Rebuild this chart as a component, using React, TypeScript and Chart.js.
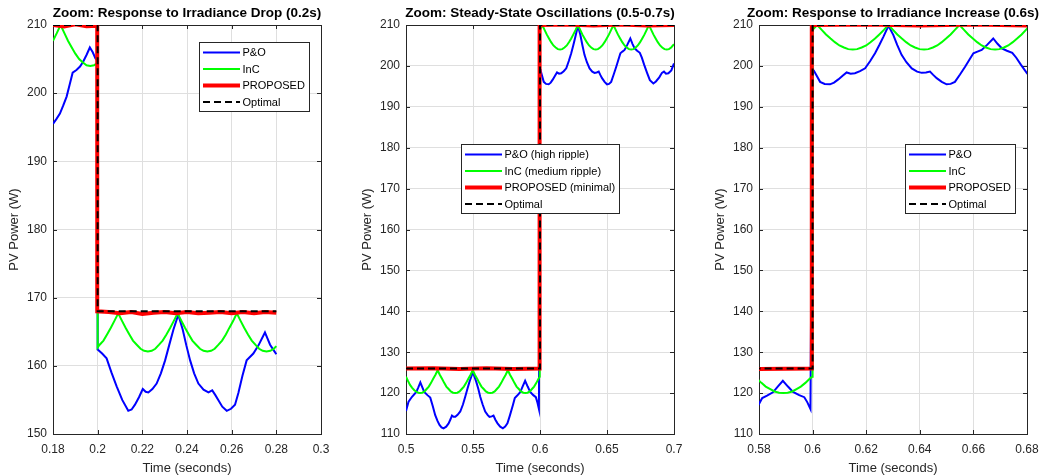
import React, { useEffect, useRef } from 'react';
import { Chart, registerables } from 'chart.js';

Chart.register(...registerables);
Chart.defaults.font.family = '"Liberation Sans", Arial, Helvetica, sans-serif';

// ---------- Panel 1: response to irradiance drop (0.18 - 0.28 s) ----------
const t1PO = [
  0.18, 0.1815, 0.1831, 0.1846, 0.1861, 0.1875, 0.1888, 0.1905, 0.1921, 0.1935,
  0.195, 0.1965, 0.1978, 0.199, 0.1999, 0.2, 0.202, 0.204, 0.2062, 0.2085,
  0.211, 0.2137, 0.2152, 0.2167, 0.2185, 0.2202, 0.2215, 0.2227, 0.2245, 0.2264,
  0.2283, 0.2302, 0.232, 0.2339, 0.2361, 0.2381, 0.2397, 0.2414, 0.2432, 0.2451,
  0.2474, 0.2496, 0.2513, 0.2527, 0.254, 0.2558, 0.2578, 0.2597, 0.2615, 0.263,
  0.2648, 0.2667, 0.2697, 0.272, 0.2749, 0.2772, 0.279, 0.28,
];
const v1PO = [
  195.5, 196.2, 197.0, 198.2, 199.5, 201.3, 203.0, 203.4, 203.9, 204.6,
  205.6, 206.7, 206.0, 205.1, 204.8, 162.4, 161.8, 161.1, 159.0, 157.0,
  155.0, 153.4, 153.6, 154.3, 155.4, 156.6, 156.2, 156.1, 156.6, 157.4,
  158.9, 160.8, 163.0, 165.3, 167.5, 165.3, 163.0, 160.8, 158.9, 157.4,
  156.5, 156.1, 156.4, 155.7, 155.0, 154.0, 153.4, 153.7, 154.3, 156.0,
  158.5, 160.8, 161.8, 163.0, 164.9, 163.1, 162.2, 161.7,
];
const t1InC = [
  0.18, 0.1817, 0.1834, 0.1851, 0.1867, 0.1884, 0.19, 0.1917, 0.1934, 0.195,
  0.1967, 0.1984, 0.1999, 0.2, 0.2009, 0.2026, 0.2042, 0.2059, 0.2075, 0.2092,
  0.2109, 0.2125, 0.2142, 0.2158, 0.2175, 0.2192, 0.2208, 0.2225, 0.2242, 0.2258,
  0.2275, 0.2291, 0.2308, 0.2325, 0.2341, 0.2358, 0.2375, 0.2391, 0.2408, 0.2424,
  0.2441, 0.2458, 0.2474, 0.2491, 0.2508, 0.2524, 0.2541, 0.2557, 0.2574, 0.259,
  0.2607, 0.2623, 0.264, 0.2656, 0.2673, 0.269, 0.2706, 0.2723, 0.2739, 0.2756,
  0.2773, 0.2789, 0.28,
];
const v1InC = [
  207.7, 208.8, 210.0, 208.8, 207.7, 206.7, 205.8, 205.0, 204.5, 204.1,
  204.0, 204.1, 204.4, 162.7, 163.1, 163.7, 164.6, 165.6, 166.6, 167.7,
  166.6, 165.6, 164.6, 163.7, 163.1, 162.5, 162.2, 162.1, 162.2, 162.5,
  163.1, 163.7, 164.6, 165.6, 166.6, 167.7, 166.6, 165.6, 164.6, 163.7,
  163.1, 162.5, 162.2, 162.1, 162.2, 162.5, 163.1, 163.7, 164.6, 165.6,
  166.6, 167.7, 166.6, 165.6, 164.6, 163.7, 163.1, 162.5, 162.2, 162.1,
  162.2, 162.5, 162.9,
];
const t1Prop = [
  0.18, 0.185, 0.19, 0.195, 0.1998, 0.1998, 0.205, 0.21, 0.215, 0.22, 0.225,
  0.23, 0.235, 0.24, 0.245, 0.25, 0.255, 0.26, 0.265, 0.27, 0.275, 0.28,
];
const v1Prop = [
  210.0, 209.8, 210.1, 209.8, 209.9, 168.0, 167.9, 167.7, 167.9, 167.6, 167.8,
  167.9, 167.7, 167.9, 167.7, 167.8, 167.9, 167.7, 167.9, 167.7, 167.9, 167.8,
];
const t1Opt = [0.18, 0.2, 0.2, 0.28];
const v1Opt = [210, 210, 168, 168];

// ---------- Panels 2 and 3: 0.5 - 0.7 s ----------
const t2PO = [
  0.5, 0.5019, 0.5045, 0.5077, 0.5092, 0.5107, 0.5122, 0.5136, 0.516, 0.5181,
  0.52, 0.5218, 0.5235, 0.525, 0.5265, 0.528, 0.53, 0.5318, 0.5332, 0.5343,
  0.5355, 0.5368, 0.5385, 0.5405, 0.5425, 0.5442, 0.5458, 0.5474, 0.5487, 0.5499,
  0.5511, 0.5524, 0.554, 0.5554, 0.5572, 0.5591, 0.561, 0.5623, 0.564, 0.5653,
  0.5667, 0.5683, 0.5703, 0.5723, 0.574, 0.5757, 0.5775, 0.5798, 0.5812, 0.583,
  0.5852, 0.587, 0.5889, 0.5908, 0.5927, 0.595, 0.5969, 0.598, 0.5992,
  0.6, 0.6005, 0.6028, 0.6045, 0.6065, 0.608, 0.6096, 0.6112, 0.6127, 0.6142,
  0.6158, 0.6177, 0.6196, 0.6215, 0.6233, 0.6249, 0.6264, 0.6283, 0.6301, 0.6316,
  0.6332, 0.635, 0.637, 0.639, 0.6407, 0.6423, 0.6438, 0.645, 0.6463, 0.6482,
  0.65, 0.6515, 0.6531, 0.655, 0.6569, 0.6585, 0.66, 0.6615, 0.6631, 0.6652,
  0.6674, 0.669, 0.6706, 0.6725, 0.6745, 0.676, 0.6777, 0.6799, 0.682, 0.6846,
  0.6865, 0.689, 0.691, 0.6925, 0.694, 0.6958, 0.698, 0.7,
];
const v2PO = [
  115.6, 117.9, 119.1, 120.3, 121.4, 122.6, 121.4, 120.3, 119.5, 118.9,
  116.8, 114.6, 113.2, 112.2, 111.6, 111.4, 111.8, 112.6, 113.6, 114.5,
  114.2, 114.2, 114.7, 115.5, 117.2, 119.1, 121.0, 122.8, 124.0, 125.2,
  124.0, 122.8, 121.0, 119.1, 117.2, 115.5, 114.6, 114.2, 114.3, 114.5,
  113.5, 112.6, 111.8, 111.4, 111.8, 112.6, 114.5, 117.1, 118.8, 119.4,
  120.2, 121.6, 123.0, 121.6, 120.3, 119.5, 119.0, 117.8, 116.1,
  199.2, 198.8, 196.1, 195.6, 195.5, 195.9, 196.7, 197.6, 198.4, 198.1,
  198.2, 198.7, 199.4, 201.2, 203.1, 205.1, 207.1, 209.8, 207.6, 205.1,
  202.7, 200.9, 199.4, 198.6, 198.3, 198.4, 198.6, 197.8, 197.0, 196.1,
  195.5, 195.6, 196.1, 197.9, 199.8, 201.5, 203.1, 203.5, 203.9, 205.2,
  206.7, 205.4, 204.3, 203.7, 203.2, 202.0, 200.3, 198.3, 196.5, 195.7,
  196.2, 197.2, 198.3, 198.6, 198.1, 198.2, 198.9, 200.6,
];
const t2InC = [
  0.5, 0.5013, 0.503, 0.5046, 0.5062, 0.5079, 0.5092, 0.5105,
  0.5121, 0.5138, 0.5154, 0.517, 0.5187, 0.5203, 0.522, 0.5236,
  0.5252, 0.5269, 0.5285, 0.5301, 0.5318, 0.5334, 0.5351, 0.5367,
  0.5383, 0.54, 0.5416, 0.5432, 0.5449, 0.5465, 0.5482, 0.5498,
  0.5514, 0.5531, 0.5547, 0.5563, 0.558, 0.5596, 0.5613, 0.5629,
  0.5645, 0.5662, 0.5678, 0.5694, 0.5711, 0.5727, 0.5744, 0.576,
  0.5776, 0.5793, 0.5809, 0.5825, 0.5842, 0.5858, 0.5875, 0.5891,
  0.5907, 0.5924, 0.594, 0.5956, 0.5973, 0.5989, 0.5998,
  0.6, 0.6017,
  0.6034, 0.605, 0.6067, 0.6083, 0.61, 0.6117, 0.6133, 0.615,
  0.6166, 0.6183, 0.62, 0.6216, 0.6233, 0.6249, 0.6266, 0.6283,
  0.63, 0.6316, 0.6333, 0.6349, 0.6366, 0.6382, 0.6399, 0.6416,
  0.6432, 0.6449, 0.6465, 0.6482, 0.6498, 0.6515, 0.6531, 0.6548,
  0.6565, 0.6581, 0.6598, 0.6614, 0.6631, 0.6647, 0.6664, 0.6681,
  0.6697, 0.6714, 0.673, 0.6747, 0.6763, 0.678, 0.6796, 0.6813,
  0.683, 0.6846, 0.6863, 0.6879, 0.6896, 0.6912, 0.6929, 0.6946,
  0.6962, 0.6979, 0.7,
];
const v2InC = [
  124.0, 123.1, 122.0, 121.3, 120.7, 120.3, 120.1, 120.0,
  120.1, 120.4, 121.0, 121.6, 122.5, 123.5, 124.5, 125.6,
  124.5, 123.5, 122.5, 121.6, 121.0, 120.4, 120.1, 120.0,
  120.1, 120.4, 121.0, 121.6, 122.5, 123.5, 124.5, 125.6,
  124.5, 123.5, 122.5, 121.6, 121.0, 120.4, 120.1, 120.0,
  120.1, 120.4, 121.0, 121.6, 122.5, 123.5, 124.5, 125.6,
  124.5, 123.5, 122.5, 121.6, 121.0, 120.4, 120.1, 120.0,
  120.1, 120.4, 121.0, 121.6, 122.5, 123.5, 124.0,
  208.8, 210.0,
  208.8, 207.7, 206.7, 205.8, 205.0, 204.5, 204.1, 204.0,
  204.1, 204.5, 205.0, 205.8, 206.7, 207.7, 208.8, 210.0,
  208.8, 207.7, 206.7, 205.8, 205.0, 204.5, 204.1, 204.0,
  204.1, 204.5, 205.0, 205.8, 206.7, 207.7, 208.8, 210.0,
  208.8, 207.7, 206.7, 205.8, 205.0, 204.5, 204.1, 204.0,
  204.1, 204.5, 205.0, 205.8, 206.7, 207.7, 208.8, 210.0,
  208.8, 207.7, 206.7, 205.8, 205.0, 204.5, 204.1, 204.0,
  204.1, 204.5, 205.3,
];
const t2Prop = [0.5, 0.52, 0.54, 0.56, 0.58, 0.5997, 0.5997, 0.62, 0.64, 0.66, 0.68, 0.7];
const v2Prop = [126.0, 126.1, 125.9, 126.1, 125.9, 126.0, 210.0, 210.1, 209.9, 210.1, 209.9, 210.0];
const t2Opt = [0.5, 0.6, 0.6, 0.7];
const v2Opt = [126, 126, 210, 210];

// ---------- Tick labels ----------
const xTicks1 = [0.18, 0.2, 0.22, 0.24, 0.26, 0.28, 0.3];
const xTicks2 = [0.5, 0.55, 0.6, 0.65, 0.7];
const xTicks3 = [0.58, 0.6, 0.62, 0.64, 0.66, 0.68];
const yTicks1 = [150, 160, 170, 180, 190, 200, 210];
const yTicks2 = [110, 120, 130, 140, 150, 160, 170, 180, 190, 200, 210];

const labelsShort = ['P&O', 'InC', 'PROPOSED', 'Optimal'];
const labelsLong = ['P&O (high ripple)', 'InC (medium ripple)', 'PROPOSED (minimal)', 'Optimal'];

const AXIS = '#262626';
const GRID = '#dfdfdf';
const FONT = '"Liberation Sans", Arial, Helvetica, sans-serif';
const CANVAS_W = 341;
const PAD_RIGHT = 20;

const zip = (t: number[], v: number[]) => t.map((x, i) => ({ x, y: v[i] }));

const framePlugin = {
  id: 'frameBox',
  beforeDatasetsDraw(chart: any) {
    const { ctx, chartArea } = chart;
    const { left, right, top, bottom } = chartArea;
    const xs = chart.scales.x;
    const ys = chart.scales.y;
    ctx.save();
    ctx.strokeStyle = AXIS;
    ctx.lineWidth = 1;
    ctx.setLineDash([]);
    ctx.strokeRect(Math.round(left) + 0.5, Math.round(top) + 0.5, Math.round(right - left), Math.round(bottom - top));
    ctx.beginPath();
    xs.ticks.forEach((tk: any) => {
      const px = Math.round(xs.getPixelForValue(tk.value)) + 0.5;
      ctx.moveTo(px, bottom);
      ctx.lineTo(px, bottom - 4);
      ctx.moveTo(px, top);
      ctx.lineTo(px, top + 4);
    });
    ys.ticks.forEach((tk: any) => {
      const py = Math.round(ys.getPixelForValue(tk.value)) + 0.5;
      ctx.moveTo(left, py);
      ctx.lineTo(left + 4, py);
      ctx.moveTo(right, py);
      ctx.lineTo(right - 4, py);
    });
    ctx.stroke();
    ctx.restore();
  },
};

const titlePlugin = {
  id: 'panelTitle',
  afterDraw(chart: any, _args: any, opts: any) {
    const { ctx, chartArea } = chart;
    ctx.save();
    ctx.fillStyle = '#000';
    ctx.font = `bold 13.5px ${FONT}`;
    ctx.textAlign = 'center';
    ctx.textBaseline = 'middle';
    ctx.fillText(opts.text, (chartArea.left + chartArea.right) / 2, 13);
    ctx.restore();
  },
};

const legendPlugin = {
  id: 'boxLegend',
  afterDatasetsDraw(chart: any, _args: any, opts: any) {
    const { ctx } = chart;
    const { x, y, w, h } = opts;
    ctx.save();
    ctx.fillStyle = '#ffffff';
    ctx.fillRect(x, y, w, h);
    ctx.strokeStyle = AXIS;
    ctx.lineWidth = 1;
    ctx.setLineDash([]);
    ctx.strokeRect(x + 0.5, y + 0.5, w, h);
    chart.data.datasets.forEach((ds: any, i: number) => {
      const cy = y + 10.5 + i * 16.5;
      ctx.beginPath();
      ctx.setLineDash(ds.borderDash || []);
      ctx.strokeStyle = ds.borderColor;
      ctx.lineWidth = ds.borderWidth;
      ctx.moveTo(x + 4, cy);
      ctx.lineTo(x + 41, cy);
      ctx.stroke();
      ctx.setLineDash([]);
      ctx.fillStyle = '#000';
      ctx.font = `11px ${FONT}`;
      ctx.textAlign = 'left';
      ctx.textBaseline = 'middle';
      ctx.fillText(ds.label, x + 43.5, cy + 0.5);
    });
    ctx.restore();
  },
};

type PanelDef = {
  title: string;
  labels: string[];
  po: [number[], number[]];
  inc: [number[], number[]];
  prop: [number[], number[]];
  opt: [number[], number[]];
  xMin: number;
  xMax: number;
  yMin: number;
  yMax: number;
  xTicks: number[];
  yTicks: number[];
  legend: { x: number; y: number; w: number; h: number };
  left: number;
};

const panels: PanelDef[] = [
  {
    title: 'Zoom: Response to Irradiance Drop (0.2s)',
    labels: labelsShort,
    po: [t1PO, v1PO], inc: [t1InC, v1InC], prop: [t1Prop, v1Prop], opt: [t1Opt, v1Opt],
    xMin: 0.18, xMax: 0.3, yMin: 150, yMax: 210, xTicks: xTicks1, yTicks: yTicks1,
    legend: { x: 199, y: 42, w: 110, h: 69 },
    left: 0,
  },
  {
    title: 'Zoom: Steady-State Oscillations (0.5-0.7s)',
    labels: labelsLong,
    po: [t2PO, v2PO], inc: [t2InC, v2InC], prop: [t2Prop, v2Prop], opt: [t2Opt, v2Opt],
    xMin: 0.5, xMax: 0.7, yMin: 110, yMax: 210, xTicks: xTicks2, yTicks: yTicks2,
    legend: { x: 108, y: 144, w: 158, h: 69 },
    left: 353,
  },
  {
    title: 'Zoom: Response to Irradiance Increase (0.6s)',
    labels: labelsShort,
    po: [t2PO, v2PO], inc: [t2InC, v2InC], prop: [t2Prop, v2Prop], opt: [t2Opt, v2Opt],
    xMin: 0.58, xMax: 0.68, yMin: 110, yMax: 210, xTicks: xTicks3, yTicks: yTicks2,
    legend: { x: 199, y: 144, w: 110, h: 69 },
    left: 706,
  },
];

function makeConfig(p: PanelDef): any {
  return {
    type: 'line',
    data: {
      datasets: [
        { label: p.labels[0], data: zip(p.po[0], p.po[1]), borderColor: '#0000ff', borderWidth: 2, order: 4 },
        { label: p.labels[1], data: zip(p.inc[0], p.inc[1]), borderColor: '#00ff00', borderWidth: 2, order: 3 },
        { label: p.labels[2], data: zip(p.prop[0], p.prop[1]), borderColor: '#ff0000', borderWidth: 4, order: 2 },
        { label: p.labels[3], data: zip(p.opt[0], p.opt[1]), borderColor: '#000000', borderWidth: 2, borderDash: [7, 4], order: 1 },
      ],
    },
    options: {
      responsive: false,
      maintainAspectRatio: false,
      animation: false,
      devicePixelRatio: 1,
      layout: { padding: { top: 25, right: PAD_RIGHT, left: 0, bottom: 0 } },
      elements: {
        point: { radius: 0, hoverRadius: 0 },
        line: { tension: 0, fill: false, borderCapStyle: 'butt', borderJoinStyle: 'miter' },
      },
      events: [],
      plugins: {
        legend: { display: false },
        tooltip: { enabled: false },
        title: { display: false },
        panelTitle: { text: p.title },
        boxLegend: p.legend,
      },
      scales: {
        x: {
          type: 'linear',
          min: p.xMin,
          max: p.xMax,
          afterBuildTicks: (s: any) => {
            s.ticks = p.xTicks.map((v) => ({ value: v }));
          },
          afterFit: (s: any) => {
            s.height = 42;
          },
          grid: { color: GRID, drawTicks: false, lineWidth: 1 },
          border: { display: false },
          ticks: {
            padding: 8,
            color: AXIS,
            font: { size: 12 },
            maxRotation: 0,
            autoSkip: false,
            callback: (v: any) => String(v),
          },
          title: {
            display: true,
            text: 'Time (seconds)',
            color: AXIS,
            font: { size: 13 },
            padding: { top: 0, bottom: 0 },
          },
        },
        y: {
          type: 'linear',
          min: p.yMin,
          max: p.yMax,
          afterBuildTicks: (s: any) => {
            s.ticks = p.yTicks.map((v) => ({ value: v }));
          },
          afterFit: (s: any) => {
            s.width = 53;
          },
          grid: { color: GRID, drawTicks: false, lineWidth: 1 },
          border: { display: false },
          ticks: {
            padding: 6,
            color: AXIS,
            font: { size: 12 },
            autoSkip: false,
            callback: (v: any) => String(v),
          },
          title: {
            display: true,
            text: 'PV Power (W)',
            color: AXIS,
            font: { size: 13 },
            padding: { top: 7, bottom: 0 },
          },
        },
      },
    },
    plugins: [framePlugin, legendPlugin, titlePlugin],
  };
}

function Panel({ def }: { def: PanelDef }) {
  const ref = useRef<HTMLCanvasElement | null>(null);
  useEffect(() => {
    if (!ref.current) return;
    const chart = new Chart(ref.current, makeConfig(def));
    return () => chart.destroy();
  }, [def]);
  return (
    <canvas
      ref={ref}
      width={CANVAS_W}
      height={476}
      style={{ position: 'absolute', left: def.left, top: 0, width: CANVAS_W, height: 476 }}
    />
  );
}

export default function App() {
  return (
    <div
      style={{
        position: 'absolute',
        left: 0,
        top: 0,
        width: 1039,
        height: 476,
        background: '#ffffff',
        overflow: 'hidden',
      }}
    >
      {panels.map((p, i) => (
        <Panel key={i} def={p} />
      ))}
    </div>
  );
}
